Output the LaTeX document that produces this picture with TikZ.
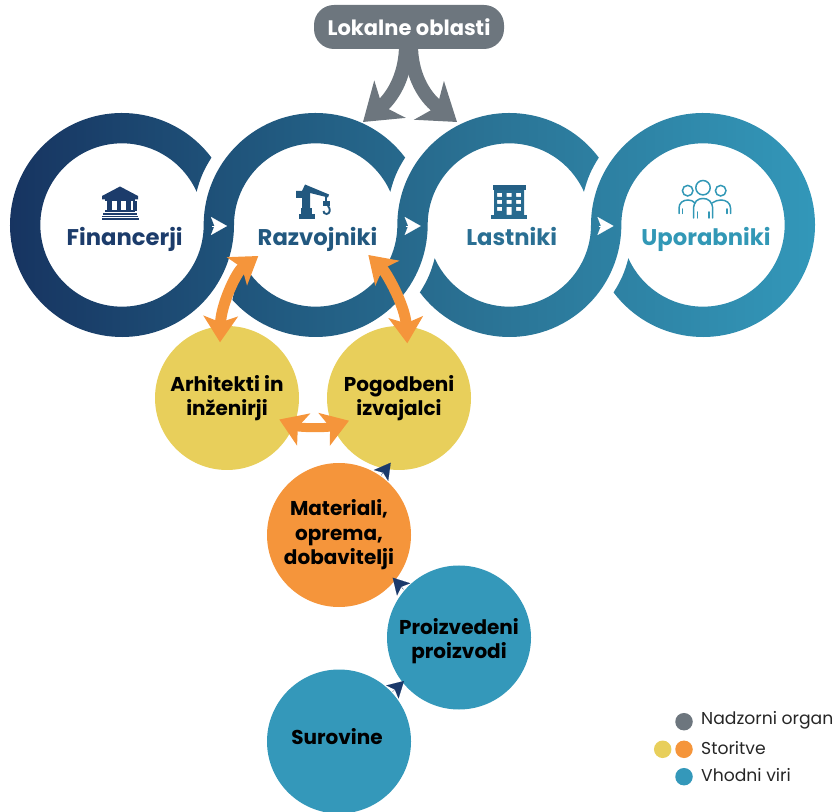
\documentclass[tikz,border=0pt]{standalone}
\usepackage{fontspec}
\setmainfont{Poppins}
\usetikzlibrary{arrows.meta,shapes.geometric}
\definecolor{cGrey}{HTML}{6D767E}
\definecolor{cYellow}{HTML}{E8CF5B}
\definecolor{cOrange}{HTML}{F5953B}
\definecolor{cBlue}{HTML}{3498BA}
\definecolor{cNavy}{HTML}{1B3A6B}
\definecolor{gA}{HTML}{16325F}
\definecolor{gB}{HTML}{215A80}
\definecolor{gC}{HTML}{2A7294}
\definecolor{gD}{HTML}{3399BB}
\definecolor{tF}{HTML}{1C3C6B}
\definecolor{tR}{HTML}{22587F}
\definecolor{tL}{HTML}{2A6F93}
\definecolor{tU}{HTML}{3298B6}
\pgfdeclarehorizontalshading{ringgrad}{100bp}{color(0bp)=(gA); color(25bp)=(gA); color(42bp)=(gB); color(54bp)=(gC); color(75bp)=(gD); color(100bp)=(gD)}
\def\Ro{112}
\def\Ri{81.67}
\tikzset{
  px/.style={shift={(0,811)},yscale=-1},
  ringlabel/.style={font=\fontsize{22.7}{26}\selectfont\bfseries,inner sep=0pt,anchor=base},
  actor/.style={circle,minimum size=144pt,inner sep=0pt,font=\fontsize{20}{24.5}\selectfont\bfseries,text=black,align=center},
  actorlabel/.style={font=\fontsize{20}{24.5}\selectfont\bfseries,text=black,align=center,inner sep=0pt},
  orangearrow/.style={draw=cOrange,line width=#1,{Stealth[length=26pt,width=34pt,inset=6pt]}-{Stealth[length=26pt,width=34pt,inset=6pt]}},
  greyarrow/.style={draw=cGrey,line width=14pt,-{Stealth[length=35pt,width=48pt,inset=10pt]}},
  navytip/.style={draw=cNavy,fill=cNavy,line width=.1pt,-{Stealth[length=16pt,width=18pt,inset=3.5pt]}},
  whitetip/.style={draw=white,line width=.1pt,-{Stealth[length=16pt,width=18pt,inset=3.5pt]}},
  legenddot/.style={circle,minimum size=17.5pt,inner sep=0pt},
  legendtext/.style={anchor=west,inner sep=0pt,font=\fontsize{17.2}{20}\selectfont,text=black!85},
}
\begin{document}
\begin{tikzpicture}[x=1pt,y=1pt]
\useasboundingbox (0,0) rectangle (834,811);
\clip (0,0) rectangle (834,811);
\coordinate (cF) at (122,586);
\coordinate (cR) at (315.67,586);
\coordinate (cL) at (509.33,586);
\coordinate (cU) at (703,586);
% the interlocked rings, one horizontal gradient over all bands
\path[shading=ringgrad]
  % Financerji + Razvojniki upper
  ([shift={(37:\Ro)}]cF) arc[start angle=37,end angle=360,radius=\Ro]
  arc[start angle=180,end angle=24,radius=\Ri]
  to[bend left=8.7] ([shift={(37:\Ro)}]cR)
  arc[start angle=37,end angle=180,radius=\Ro]
  arc[start angle=360,end angle=24,radius=\Ri]
  to[bend left=8.7] ([shift={(37:\Ro)}]cF) -- cycle
  % Razvojniki lower + Lastniki upper
  ([shift={(222:\Ro)}]cR) arc[start angle=222,end angle=360,radius=\Ro]
  arc[start angle=180,end angle=24,radius=\Ri]
  to[bend left=8.7] ([shift={(37:\Ro)}]cL)
  arc[start angle=37,end angle=180,radius=\Ro]
  arc[start angle=360,end angle=204,radius=\Ri]
  -- cycle
  % Lastniki lower + Uporabniki
  ([shift={(217:\Ro)}]cL) arc[start angle=217,end angle=360,radius=\Ro]
  arc[start angle=180,end angle=-156,radius=\Ri]
  to[bend left=8.7] ([shift={(-143:\Ro)}]cU)
  arc[start angle=-143,end angle=180,radius=\Ro]
  arc[start angle=360,end angle=204,radius=\Ri]
  to[bend left=8.7] ([shift={(217:\Ro)}]cL) -- cycle;

\begin{scope}[px]
% ring labels
\node[ringlabel,text=tF] (fin) at (124.7,245.6) {Financerji};
\node[ringlabel,text=tR] (raz) at (317.5,245.6) {Razvojniki};
\node[ringlabel,text=tL] (las) at (511.7,245.6) {Lastniki};
\node[ringlabel,text=tU] (upo) at (706,245.6) {Uporabniki};

% white flow tips
\coordinate (w1a) at (212,226); \coordinate (w1b) at (227,226);
\coordinate (w2a) at (405.5,226); \coordinate (w2b) at (420.7,226);
\coordinate (w3a) at (598.5,226); \coordinate (w3b) at (613.5,226);
\draw[whitetip] (w1a) -- (w1b);
\draw[whitetip] (w2a) -- (w2b);
\draw[whitetip] (w3a) -- (w3b);

% bank icon
\fill[tF] (120,186.5) -- (138,196) -- (138,199.5) -- (102,199.5) -- (102,196) -- cycle;
\fill[tF] (105,199.5) rectangle (135,201.5);
\foreach \cx in {108.5,118,127.5,134}{\fill[tF] (\cx-1.5,201) rectangle (\cx+3,211.5);}
\fill[tF] (105,210.5) rectangle (135,212.5);
\fill[tF] (103,213.5) rectangle (137,215);
\fill[tF] (102,216) rectangle (138,217.5);
\fill[tF] (101.5,218.5) rectangle (139,220);

% crane icon
\fill[tR] (305,184.5) -- (329,194.5) -- (328,197.5) -- (310,193) -- (310,208) -- (302,208) -- (302,198) -- (296,198) -- (296,191) -- (302,191) -- cycle;
\fill[tR] (300.5,208) rectangle (311.5,214);
\fill[tR] (299,214) rectangle (315,219);
\draw[tR,line width=1.2pt] (326,195) -- (326,202);
\fill[tR] (322.5,201) rectangle (329.5,206);
\draw[tR,line width=1.9pt] (328,206) .. controls (331,209) and (330,214) .. (326.5,214) .. controls (324.5,214) and (323.5,212.5) .. (323.5,211);

% building icon
\fill[tR!70!tL] (492.5,185.5) rectangle (525.5,190);
\fill[tL!80!tR,even odd rule] (494,190) rectangle (524,215)
  (497,193) rectangle (502,197) (506.5,193) rectangle (511.5,197) (516,193) rectangle (521,197)
  (497,200) rectangle (502,204) (506.5,200) rectangle (511.5,204) (516,200) rectangle (521,204)
  (497,207) rectangle (502,211) (506.5,207) rectangle (511.5,215) (516,207) rectangle (521,211);
\fill[tL!80!tR] (490.7,215) rectangle (527.3,219);

% people icon
\begin{scope}[draw=tU,line width=1.5pt,line cap=round]
\draw (703,187.7) circle[radius=7.2];
\draw (687.7,190.7) circle[radius=5.3];
\draw (720.7,190.7) circle[radius=5.3];
\draw (693.5,218) -- (693.5,210) .. controls (693.5,201) and (698,198.5) .. (703,198.5) .. controls (708,198.5) and (712.7,201) .. (712.7,210) -- (712.7,218);
\draw (697.5,212) -- (697.5,218);
\draw (709,212) -- (709,218);
\draw (679,213.5) -- (679,208) .. controls (679,203) and (683,200) .. (688,200) .. controls (691,200) and (693,201) .. (695,203);
\draw (682.5,209) -- (682.5,213.5);
\draw (730.5,213.5) -- (730.5,208) .. controls (730.5,203) and (726,200) .. (721,200) .. controls (718,200) and (715,201) .. (712,203);
\draw (727,209) -- (727,213.5);
\end{scope}

% top box and fork
\coordinate (forkL) at (406,45);
\coordinate (forkR) at (411,45);
\coordinate (tipL) at (363,122);
\coordinate (tipR) at (457,122);
\draw[greyarrow] (forkL) .. controls (406,72) and (395,95) .. (tipL);
\draw[greyarrow] (forkR) .. controls (411,72) and (422,95) .. (tipR);
\node[fill=cGrey,rounded corners=20pt,minimum width=190pt,minimum height=44pt,inner sep=0pt,text=white,font=\fontsize{21}{24}\selectfont\bfseries] (lok) at (409,27) {Lokalne oblasti};

% actors
\node[actor,fill=cYellow] (arh) at (227,398) {Arhitekti in\\inženirji};
\node[actor,fill=cYellow] (pog) at (399,398) {Pogodbeni\\izvajalci};
\node[actor,fill=cOrange] (mat) at (339,535) {Materiali,\\oprema,\\dobavitelji};
\node[actor,fill=cBlue] (pro) at (459,637.5) {};
\node[actorlabel] (prot) at (459,641) {Proizvedeni\\proizvodi};
\node[actor,fill=cBlue] (sur) at (339,741.5) {};
\node[actorlabel] (surt) at (337,737) {Surovine};

% navy tips
\coordinate (n1a) at (381,475.5); \coordinate (n1b) at (390.7,462.7);
\coordinate (n2a) at (403.5,589.3); \coordinate (n2b) at (392.7,577.7);
\coordinate (n3a) at (392.3,692); \coordinate (n3b) at (404,681);
\draw[navytip] (n1a) -- (n1b);
\draw[navytip] (n2a) -- (n2b);
\draw[navytip] (n3a) -- (n3b);

% orange double arrows
\coordinate (o1a) at (258.3,256); \coordinate (o1b) at (220,342.3);
\coordinate (o2a) at (368.3,255); \coordinate (o2b) at (407.3,343.3);
\coordinate (o3a) at (279.3,419.5); \coordinate (o3b) at (349,420.7);
\draw[orangearrow=11pt] (o1a) .. controls (236,272) and (221,305) .. (o1b);
\draw[orangearrow=11pt] (o2a) .. controls (386,272) and (405,305) .. (o2b);
\draw[orangearrow=9pt] (o3a) .. controls (300,428) and (328,428) .. (o3b);

% legend
\node[legenddot,fill=cGrey] (lg) at (684,721.7) {};
\node[legenddot,fill=cYellow] (ly) at (662.7,749.3) {};
\node[legenddot,fill=cOrange] (lo) at (684,749.3) {};
\node[legenddot,fill=cBlue] (lb) at (684,776.7) {};
\node[legendtext] (tg) at (701,720.5) {Nadzorni organ};
\node[legendtext] (ts) at (701,748) {Storitve};
\node[legendtext] (tb) at (701,775) {Vhodni viri};
\end{scope}
\end{tikzpicture}
\end{document}
